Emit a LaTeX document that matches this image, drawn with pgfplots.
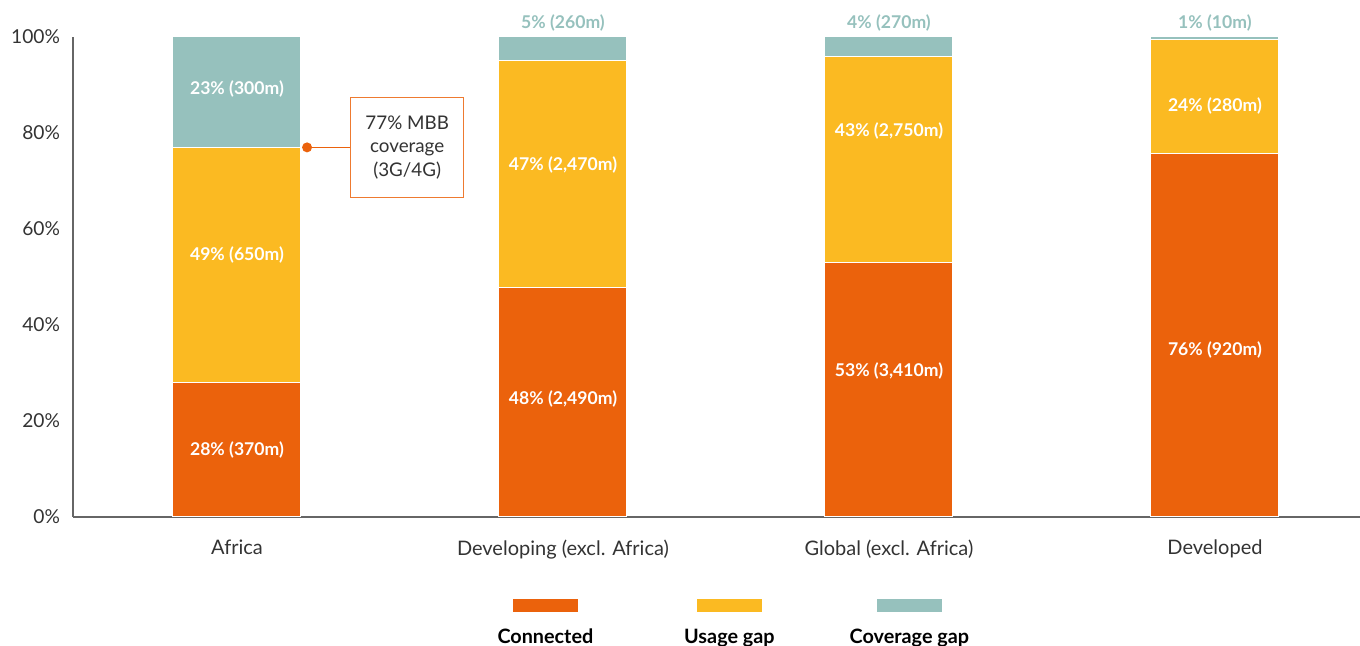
\documentclass[border=0pt]{standalone}
\usepackage{fontspec}
\setmainfont{Lato}
\usepackage{pgfplots}
\pgfplotsset{compat=1.18}
\definecolor{conn}{HTML}{EB620C}
\definecolor{usage}{HTML}{FBBA22}
\definecolor{cover}{HTML}{96C1BD}
\definecolor{txt}{HTML}{333333}
\definecolor{axisc}{HTML}{666666}
\tikzset{
  inlab/.style={font=\bfseries\fontsize{8.8}{10}\selectfont, text=white},
  toplab/.style={font=\bfseries\fontsize{8.8}{10}\selectfont, text=cover},
  leglab/.style={font=\bfseries\fontsize{9.9}{11}\selectfont, text=black, anchor=base},
}

\begin{document}
\begin{tikzpicture}
\useasboundingbox (0,0) rectangle (680pt,323pt);
\begin{axis}[
  at={(36.5pt,64.5pt)}, anchor=south west,
  scale only axis, width=643.5pt, height=240pt,
  ybar stacked, bar width=64pt,
  xmin=-0.503, xmax=3.445, ymin=0, ymax=100,
  axis x line=bottom, axis y line=left,
  axis line style={-, draw=axisc, line width=0.6pt},
  major tick length=0pt,
  ytick={0,20,...,100},
  yticklabel={\pgfmathprintnumber{\tick}\%},
  /pgf/number format/assume math mode=true,
  yticklabel style={font=\fontsize{9.6}{11}\selectfont, text=txt, xshift=-3pt},
  xtick={0,1,2,3},
  xticklabels={Africa, Developing (excl. Africa), Global (excl. Africa), Developed},
  xticklabel style={font=\fontsize{10}{11}\selectfont, text=txt, yshift=-8pt},
  clip=false,
]
\addplot[fill=conn, draw=white, line width=0.5pt] coordinates {(0,28) (1,47.9) (2,53.1) (3,75.8)};
\addplot[fill=usage, draw=white, line width=0.5pt] coordinates {(0,49) (1,47.3) (2,42.9) (3,23.6)};
\addplot[fill=cover, draw=white, line width=0.5pt] coordinates {(0,23) (1,4.8) (2,4.0) (3,0.6)};

% label anchors, drawn after the axis so they sit on top of the bars
\coordinate (a1) at (axis cs:0,14);
\coordinate (a2) at (axis cs:0,54.5);
\coordinate (a3) at (axis cs:0,89.2);
\coordinate (b1) at (axis cs:1,24.5);
\coordinate (b2) at (axis cs:1,73.3);
\coordinate (b3) at (axis cs:1,102.9);
\coordinate (c1) at (axis cs:2,30.5);
\coordinate (c2) at (axis cs:2,80.5);
\coordinate (c3) at (axis cs:2,102.9);
\coordinate (d1) at (axis cs:3,34.8);
\coordinate (d2) at (axis cs:3,85.6);
\coordinate (d3) at (axis cs:3,102.9);
\coordinate (dot) at (axis cs:0.215,77);
\coordinate (box) at (axis cs:0.347,77);
\end{axis}

\node[inlab] at (a1) {28\% (370m)};
\node[inlab] at (a2) {49\% (650m)};
\node[inlab] at (a3) {23\% (300m)};
\node[inlab] at (b1) {48\% (2,490m)};
\node[inlab] at (b2) {47\% (2,470m)};
\node[toplab] at (b3) {5\% (260m)};
\node[inlab] at (c1) {53\% (3,410m)};
\node[inlab] at (c2) {43\% (2,750m)};
\node[toplab] at (c3) {4\% (270m)};
\node[inlab] at (d1) {76\% (920m)};
\node[inlab] at (d2) {24\% (280m)};
\node[toplab] at (d3) {1\% (10m)};

\draw[conn, line width=0.6pt] (dot) -- (box);
\fill[conn] (dot) circle (2.5pt);
\node[draw=conn!85, line width=0.6pt, fill=white, text=txt, align=center,
  minimum width=56.5pt, minimum height=50pt, inner sep=1pt,
  font=\fontsize{9.4}{11.8}\selectfont, anchor=west]
  at (box) {77\% MBB\\coverage\\(3G/4G)};

% legend
\fill[conn] (256.5pt,17pt) rectangle (289pt,23.5pt);
\fill[usage] (348.5pt,17pt) rectangle (381pt,23.5pt);
\fill[cover] (438.5pt,17pt) rectangle (471pt,23.5pt);
\node[leglab] at (272.7pt,1pt) {Connected};
\node[leglab] at (364.7pt,1pt) {Usage gap};
\node[leglab] at (454.7pt,1pt) {Coverage gap};
\end{tikzpicture}
\end{document}
